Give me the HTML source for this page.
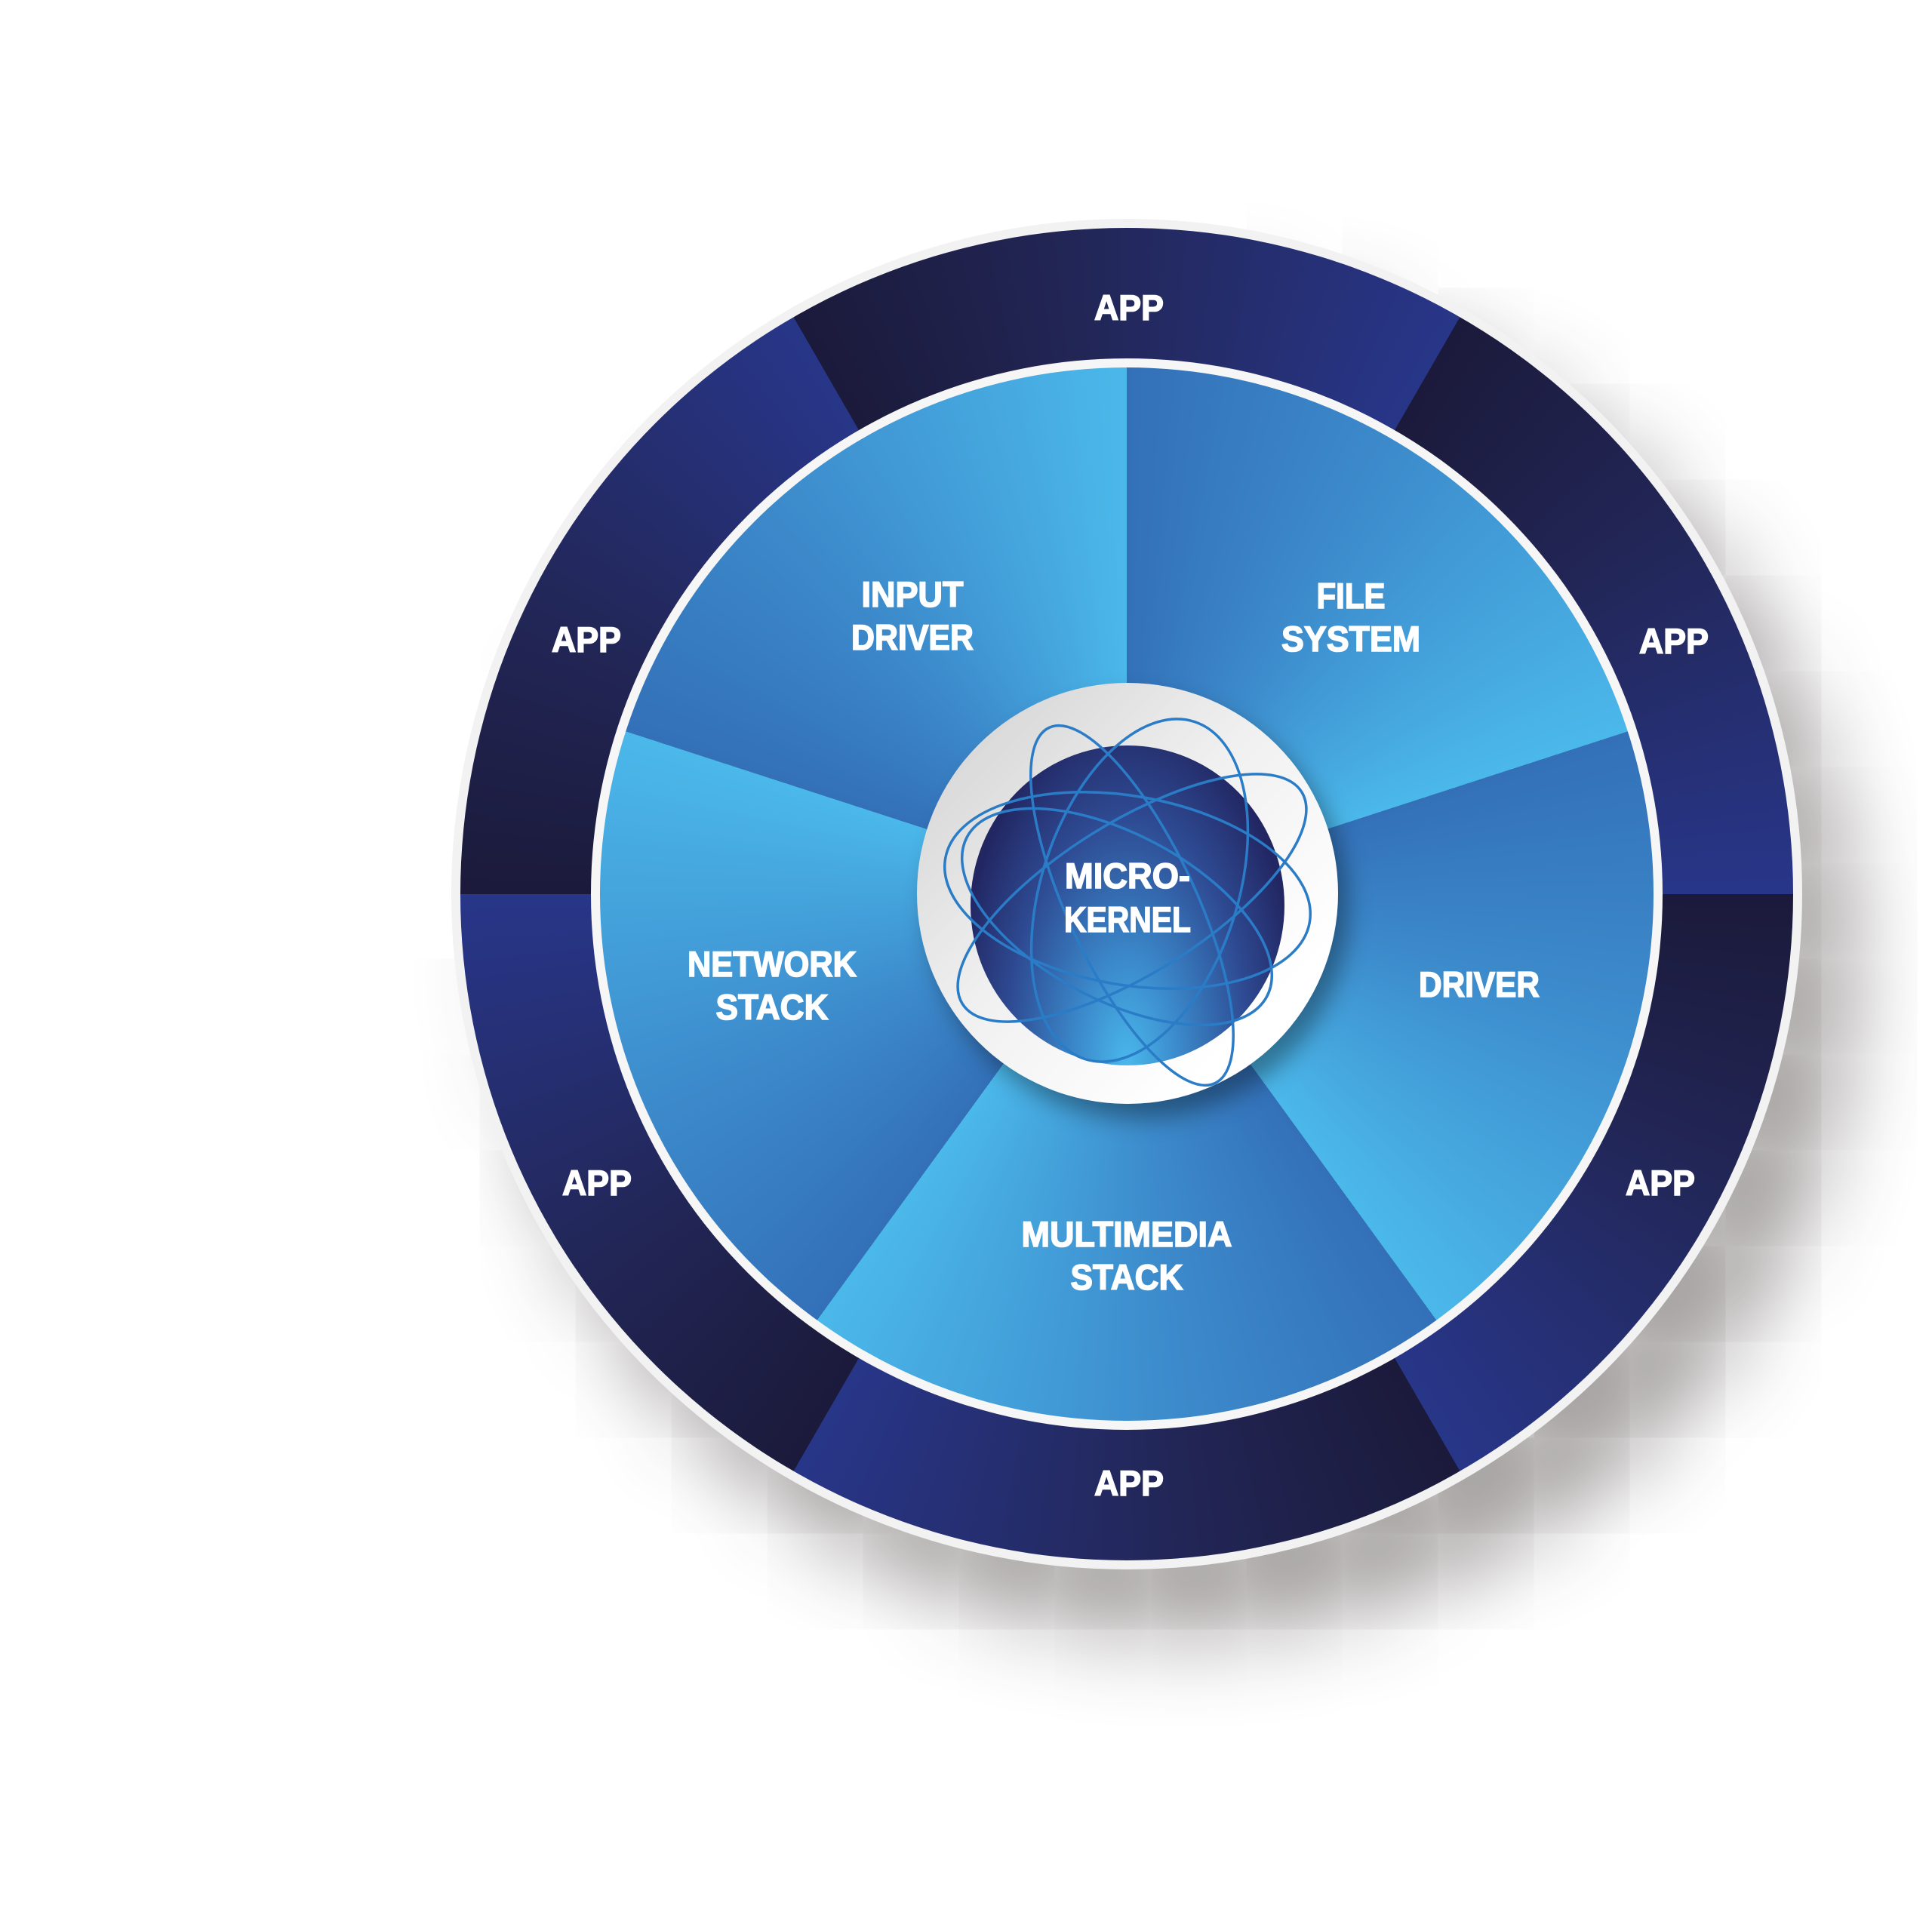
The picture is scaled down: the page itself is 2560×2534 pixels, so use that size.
<!DOCTYPE html>
<html><head><meta charset="utf-8"><style>
html,body{margin:0;padding:0;background:#fff;}
body{width:2560px;height:2534px;position:relative;overflow:hidden;}
.c{position:absolute;border-radius:50%;}
</style></head><body>
<div class="c" style="left:598px;top:290px;width:1790px;height:1790px;background:#f2f2f2;box-shadow:70px 90px 110px rgba(60,50,50,0.45);"></div>
<div class="c" style="left:610px;top:302px;width:1766px;height:1766px;background:repeating-conic-gradient(from -30deg,#1b1a3b 0deg,#222656 25deg,#283689 60deg);"></div>
<div class="c" style="left:783px;top:475px;width:1420px;height:1420px;background:#f6f6f6;"></div>
<div class="c" style="left:795px;top:487px;width:1396px;height:1396px;background:repeating-conic-gradient(from 0deg,#3370b8 0deg,#3c8acb 30deg,#4bb8ea 72deg);"></div>
<div class="c" style="left:1215px;top:905px;width:558px;height:558px;background:linear-gradient(135deg,#cfcfcf 0%,#f0f0f0 45%,#ffffff 80%);box-shadow:14px 20px 30px rgba(0,0,0,0.35);"></div>
<div class="c" style="left:1286px;top:988px;width:416px;height:424px;background:radial-gradient(ellipse at 50% 100%,#4ab8ec 0%,#3a86c8 25%,#2e4a92 55%,#222662 80%,#1c1d45 100%);"></div>
<svg width="2560" height="2534" style="position:absolute;left:0;top:0">
<g fill="none" stroke="#2b7cc7" stroke-width="3.5">
<ellipse cx="1500" cy="1190" rx="265" ry="100" transform="rotate(-32 1500 1190)"/>
<ellipse cx="1494" cy="1180" rx="245" ry="125" transform="rotate(10 1494 1180)"/>
<ellipse cx="1500" cy="1200" rx="260" ry="85" transform="rotate(65 1500 1200)"/>
<ellipse cx="1510" cy="1180" rx="235" ry="130" transform="rotate(-72 1510 1180)"/>
<ellipse cx="1480" cy="1215" rx="225" ry="110" transform="rotate(28 1480 1215)"/>
</g>
<g fill="#fff" stroke="#fff" stroke-width="1.6" font-family="Liberation Sans, Arial, sans-serif" font-weight="bold" font-size="47" text-anchor="middle">
<text x="1496" y="424" textLength="92" lengthAdjust="spacingAndGlyphs">APP</text>
<text x="777" y="864" textLength="92" lengthAdjust="spacingAndGlyphs">APP</text>
<text x="2218" y="866" textLength="92" lengthAdjust="spacingAndGlyphs">APP</text>
<text x="791" y="1584" textLength="92" lengthAdjust="spacingAndGlyphs">APP</text>
<text x="2200" y="1584" textLength="92" lengthAdjust="spacingAndGlyphs">APP</text>
<text x="1496" y="1982" textLength="92" lengthAdjust="spacingAndGlyphs">APP</text>
<text x="1209" y="804" textLength="135" lengthAdjust="spacingAndGlyphs">INPUT</text>
<text x="1209" y="861" textLength="162" lengthAdjust="spacingAndGlyphs">DRIVER</text>
<text x="1790" y="806" textLength="91" lengthAdjust="spacingAndGlyphs">FILE</text>
<text x="1790" y="863" textLength="184" lengthAdjust="spacingAndGlyphs">SYSTEM</text>
<text x="1023" y="1294" textLength="224" lengthAdjust="spacingAndGlyphs">NETWORK</text>
<text x="1023" y="1351" textLength="149" lengthAdjust="spacingAndGlyphs">STACK</text>
<text x="1960" y="1321" textLength="160" lengthAdjust="spacingAndGlyphs">DRIVER</text>
<text x="1493" y="1652" textLength="279" lengthAdjust="spacingAndGlyphs">MULTIMEDIA</text>
<text x="1493" y="1709" textLength="149" lengthAdjust="spacingAndGlyphs">STACK</text>
<text x="1494" y="1177" textLength="166" lengthAdjust="spacingAndGlyphs">MICRO-</text>
<text x="1494" y="1235" textLength="168" lengthAdjust="spacingAndGlyphs">KERNEL</text>
</g>
</svg>
</body></html>
